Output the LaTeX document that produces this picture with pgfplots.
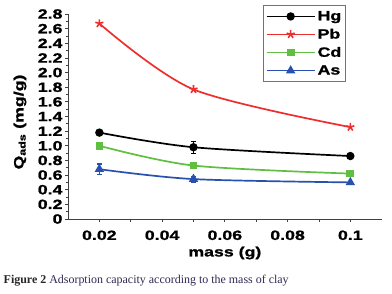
\documentclass[border=0pt]{standalone}
\usepackage{pgfplots}
\pgfplotsset{compat=1.18}
\usepackage{fontspec}
\setmainfont{Liberation Serif}
\newfontfamily\chartfont{Liberation Sans}[FakeStretch=1.32, BoldFeatures={FakeBold=1.2}]
\definecolor{cred}{RGB}{238,45,45}
\definecolor{cgreen}{RGB}{96,190,64}
\definecolor{cblue}{RGB}{40,80,175}
\definecolor{capcol}{RGB}{50,40,85}
\begin{document}
\begin{tikzpicture}
\useasboundingbox (0,0) rectangle (392bp,294bp);
\begin{axis}[
  at={(68bp,75bp)}, anchor=south west,
  scale only axis, width=313.7bp, height=205bp,
  xmin=0.01, xmax=0.11, ymin=0, ymax=2.8,
  axis lines*=left,
  axis line style={line width=1pt, black!75},
  xtick={0.02,0.04,0.06,0.08,0.1},
  xticklabels={0.02,0.04,0.06,0.08,0.1},
  ytick={0,0.2,...,2.81},
  yticklabels={0,0.2,0.4,0.6,0.8,1.0,1.2,1.4,1.6,1.8,2.0,2.2,2.4,2.6,2.8},
  minor x tick num=1, minor y tick num=1,
  tick align=outside,
  major tick length=3bp, minor tick length=2.5bp,
  tick style={black!75, line width=0.8pt},
  /pgf/number format/assume math mode=true,
  ticklabel style={font=\chartfont\bfseries\fontsize{13.5}{14}\selectfont},
  xticklabel style={yshift=-5bp},
  yticklabel style={xshift=1bp},
  xlabel={mass (g)},
  xlabel style={at={(axis description cs:0.5,0)}, yshift=-34bp, anchor=center, font=\chartfont\bfseries\fontsize{13.5}{14}\selectfont},
  ylabel={Q\textsubscript{ads} (mg/g)},
  ylabel style={at={(axis description cs:-0.153,0.473)}, anchor=center, font=\chartfont\bfseries\fontsize{13.5}{14}\selectfont},
  legend style={at={(rel axis cs:0.622,1.044)}, anchor=north west, draw=black!55, line width=1.2pt,
    font=\chartfont\bfseries\fontsize{13.5}{14}\selectfont, row sep=3bp, inner xsep=2bp, inner ysep=3.5bp},
  legend cell align=left,
  legend image code/.code={\draw[mark repeat=2,mark phase=2] plot coordinates {(0cm,0cm)(0.85cm,0cm)(1.7cm,0cm)};},
  every axis plot/.append style={line width=1.7pt},
  clip=false,
]
\addplot+[black, smooth, mark=*, mark size=3.3bp, mark options={fill=black, solid},
  error bars/.cd, y dir=both, y explicit, error bar style={line width=1.2pt}, error mark options={rotate=90, mark size=2.5bp, line width=1.2pt}]
  table[x=x, y=y, y error=e] {
x y e
0.02 1.18 0.02
0.05 0.98 0.08
0.1 0.86 0.0
};
\addlegendentry{Hg}
\addplot+[cred, smooth, mark=star, mark size=4.2bp, mark options={solid, line width=1.6pt}]
  table[x=x, y=y] {
x y
0.02 2.67
0.05 1.77
0.1 1.255
};
\addlegendentry{Pb}
\addplot+[cgreen, smooth, mark=square*, mark size=3bp, mark options={fill=cgreen, solid}]
  table[x=x, y=y] {
x y
0.02 1.00
0.05 0.73
0.1 0.62
};
\addlegendentry{Cd}
\addplot+[cblue, smooth, mark=triangle*, mark size=3.8bp, mark options={fill=cblue, solid},
  error bars/.cd, y dir=both, y explicit, error bar style={line width=1.2pt}, error mark options={rotate=90, mark size=2.5bp, line width=1.2pt}]
  table[x=x, y=y, y error=e] {
x y e
0.02 0.68 0.07
0.05 0.545 0.04
0.1 0.50 0.0
};
\addlegendentry{As}
\end{axis}
\node[anchor=west, inner sep=0, text=capcol, font=\fontsize{12}{13}\selectfont] at (3.5bp,13bp)
  {{\bfseries\color{black!85}Figure 2} Adsorption capacity according to the mass of clay};
\end{tikzpicture}
\end{document}
